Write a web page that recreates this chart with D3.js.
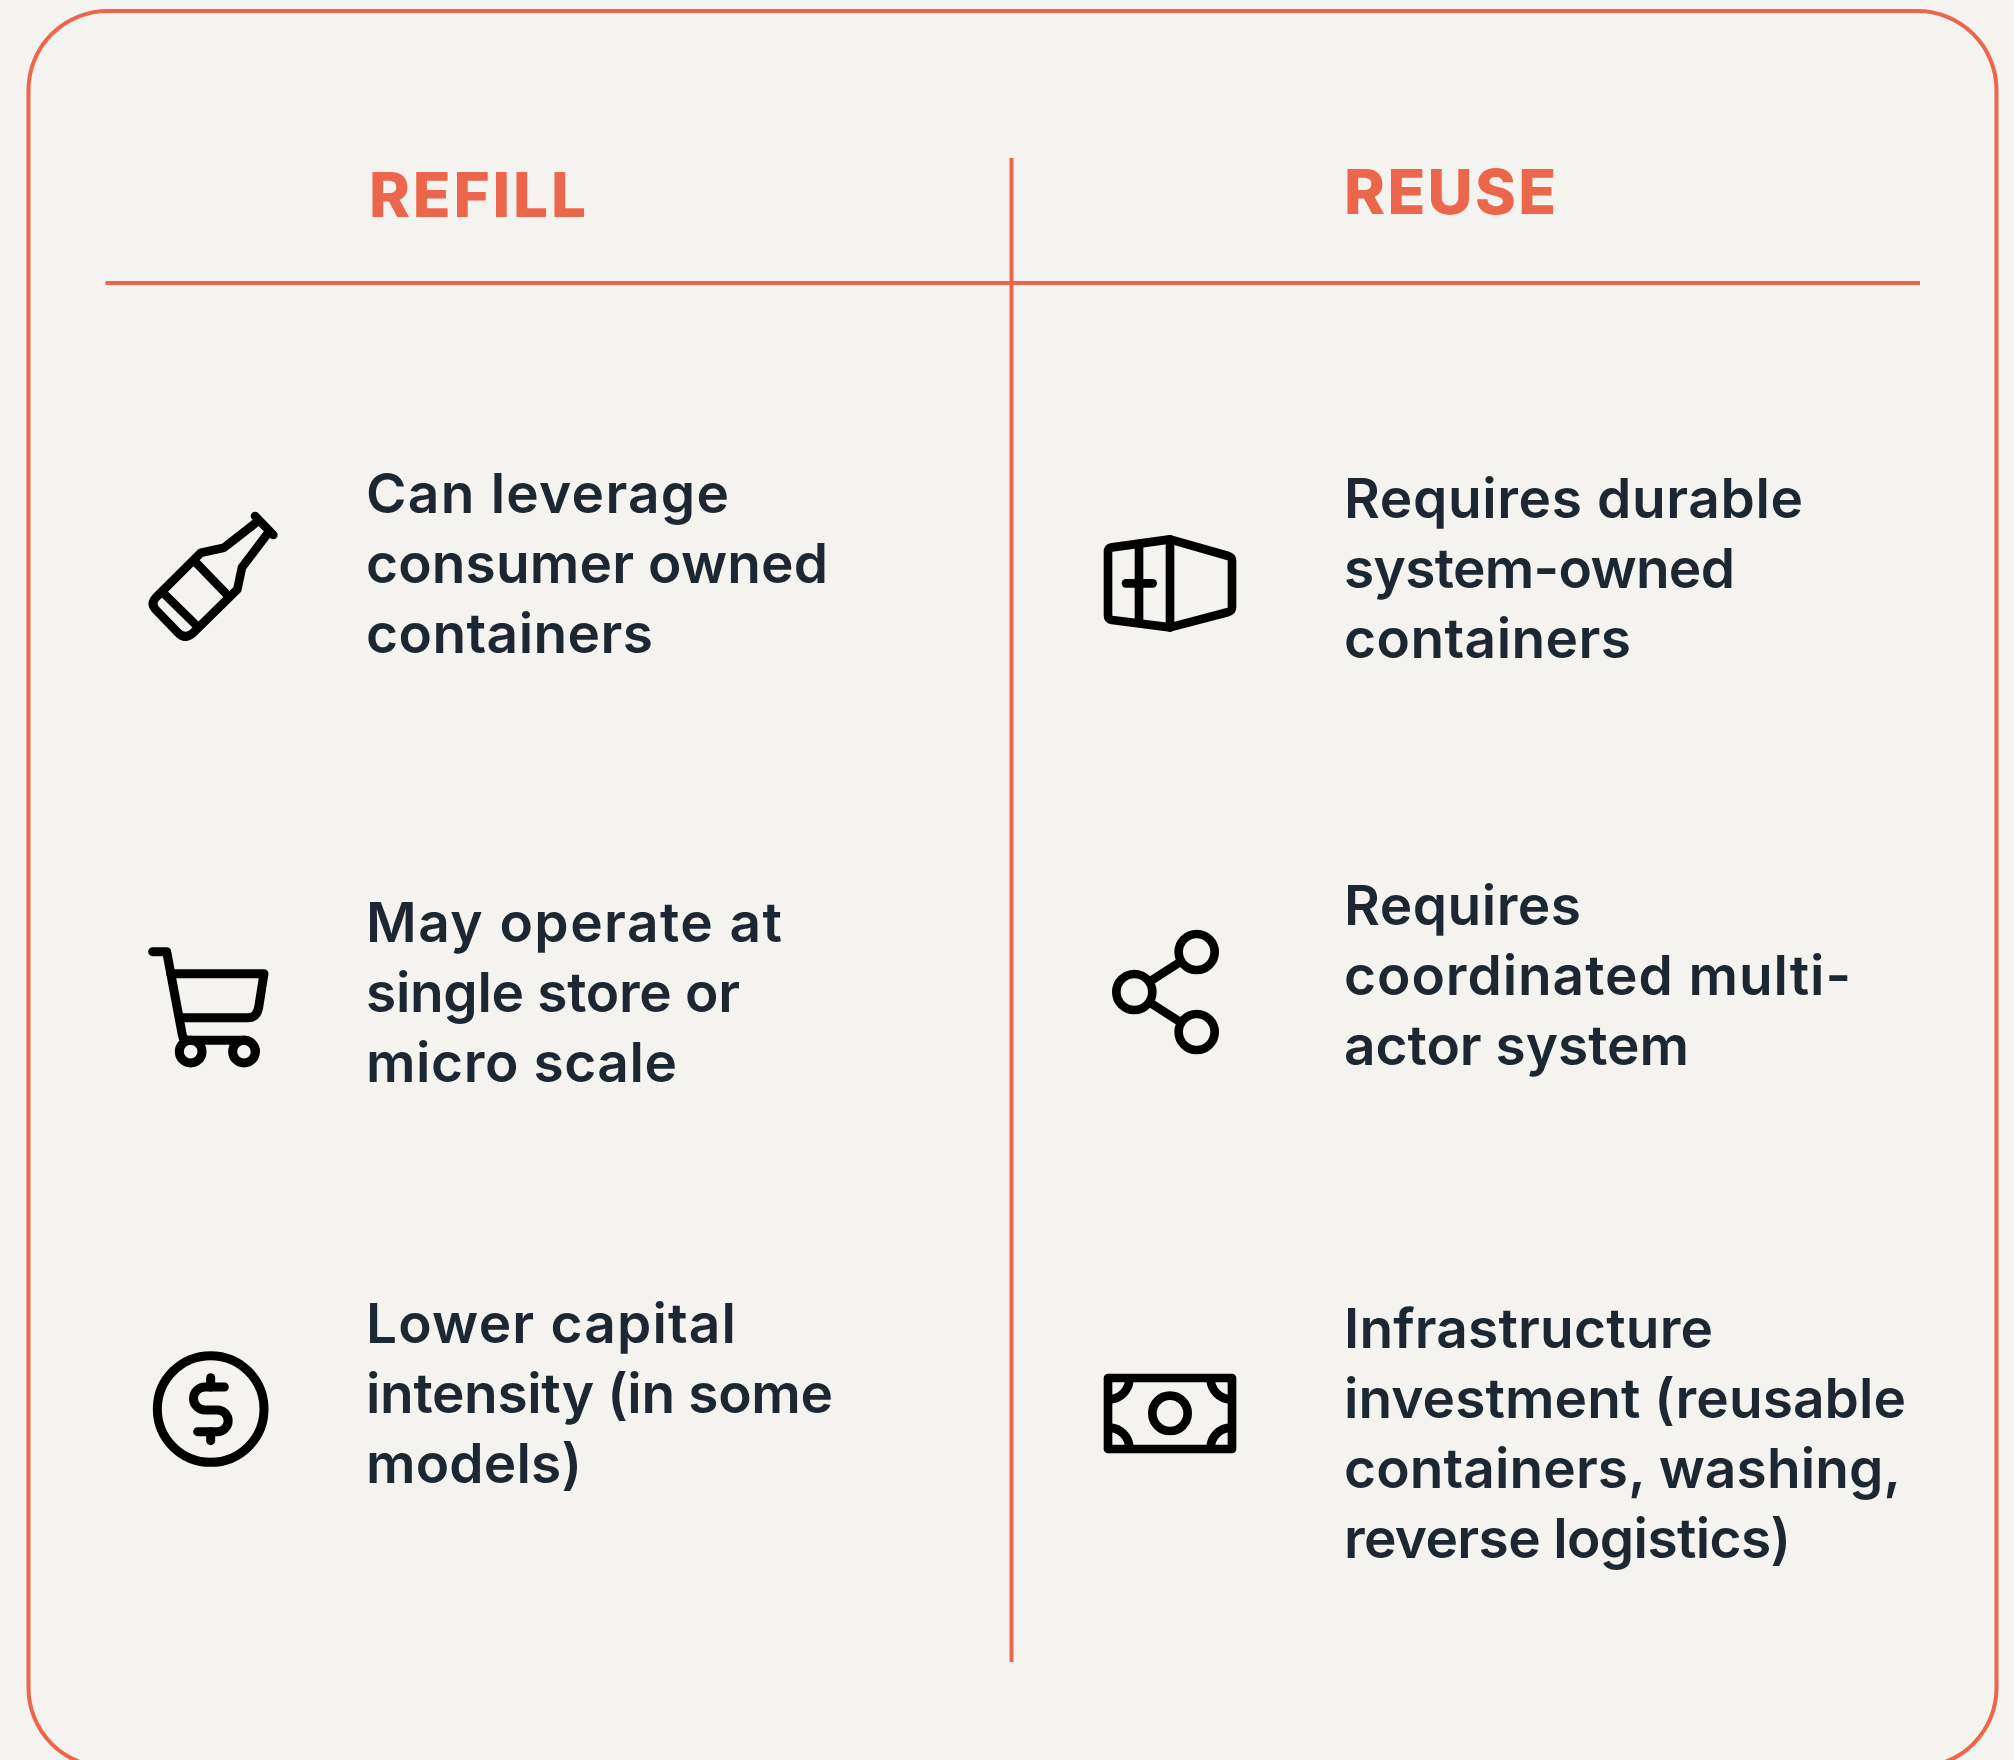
<!DOCTYPE html>
<html>
<head>
<meta charset="utf-8">
<script src="https://cdn.jsdelivr.net/npm/d3@7"></script>
<style>
  html, body { margin: 0; padding: 0; background: #f5f3ef; overflow: hidden; }
  text { font-family: "Inter", sans-serif; }
</style>
</head>
<body>
<svg id="chart"></svg>
<script>
const columns = ["REFILL", "REUSE"];
const refillLines = [
  ["Can leverage", "consumer owned", "containers"],
  ["May operate at", "single store or", "micro scale"],
  ["Lower capital", "intensity (in some", "models)"]
];
const reuseLines = [
  ["Requires durable", "system-owned", "containers"],
  ["Requires", "coordinated multi-", "actor system"],
  ["Infrastructure", "investment (reusable", "containers, washing,", "reverse logistics)"]
];
const refillIcons = ["bottle", "cart", "dollar"];
const reuseIcons = ["container", "share", "money"];

const width = 2014;
const height = 1760;
const orange = "#ec664b";
const ink = "#1d2731";
const lineHeight = 70;

// where each block's first baseline sits, and how wide each line runs in the reference
const refillY = [513, 942, 1343];
const reuseY = [518, 925, 1348];
const refillWidths = [[363, 462, 287], [416, 374, 311], [370, 467, 216]];
const reuseWidths = [[459, 391, 287], [237, 507, 345], [369, 562, 557, 447]];
const colX = [366, 1344];
const headY = [217, 214];
const headWidths = [217, 212];

const svg = d3.select("#chart")
  .attr("width", width)
  .attr("height", height);

svg.append("rect")
  .attr("x", 28.5)
  .attr("y", 11)
  .attr("width", 1968)
  .attr("height", 1756)
  .attr("rx", 79)
  .attr("fill", "#f5f3ef")
  .attr("stroke", orange)
  .attr("stroke-width", 4);

svg.append("line")
  .attr("x1", 105.5).attr("x2", 1920)
  .attr("y1", 283).attr("y2", 283)
  .attr("stroke", orange).attr("stroke-width", 4);

svg.append("line")
  .attr("x1", 1011.5).attr("x2", 1011.5)
  .attr("y1", 158).attr("y2", 1662)
  .attr("stroke", orange).attr("stroke-width", 4);

svg.selectAll("text.head")
  .data(columns)
  .enter()
  .append("text")
  .attr("class", "head")
  .attr("x", (d, i) => colX[i] + (i ? 0 : 3))
  .attr("y", (d, i) => headY[i])
  .attr("fill", orange)
  .attr("font-size", 62)
  .attr("font-weight", 800)
  .attr("textLength", (d, i) => headWidths[i])
  .text(d => d);

function drawBlocks(blocks, x, ys, widths) {
  const g = svg.append("g");
  blocks.forEach((lines, i) => {
    g.selectAll(null)
      .data(lines)
      .enter()
      .append("text")
      .attr("x", x)
      .attr("y", (d, j) => ys[i] + j * lineHeight)
      .attr("fill", ink)
      .attr("font-size", 55)
      .attr("font-weight", 600)
      .attr("textLength", (d, j) => widths[i][j])
      .text(d => d);
  });
}
drawBlocks(refillLines, colX[0], refillY, refillWidths);
drawBlocks(reuseLines, colX[1], reuseY, reuseWidths);

// icons are drawn in a 3x space so a crop of the reference reads straight across
const iconShapes = {
  bottle: { at: [120, 480], w: 26, paths: [
    "M405,108L460,165",
    "M408,128L312,203L243,218L108,352Q90,372 108,390L174,458Q195,480 220,458L352,328L366,262L445,158",
    "M230,250L322,345",
    "M133,342L225,432"
  ] },
  cart: { at: [120, 920], w: 27, paths: [
    "M98,95H140L187,345Q189,361 205,361H375A34,34 0 0 1 406,395",
    "M152,161H432L416,262Q410,293 385,293H178"
  ], circles: [[212, 395, 34], [372, 395, 34]] },
  dollar: { at: [130, 1330], w: 27, paths: [
    "M283,171H225A34.5,34.5 0 0 0 225,240H262A32.5,32.5 0 0 1 262,305H203",
    "M242,143V171",
    "M242,305V332"
  ], circles: [[242, 237, 160]] },
  container: { at: [1090, 520], w: 26, paths: [
    "M240,58L415,108Q426,112 426,122V262Q426,272 415,276L240,322L66,300Q54,298 54,286V96Q54,84 66,82Z",
    "M240,58V322",
    "M147,72V302",
    "M108,190H188"
  ] },
  share: { at: [1090, 920], w: 26, paths: [
    "M180,184L272,125",
    "M180,248L272,307"
  ], circles: [[320, 96, 54], [133, 216, 54], [320, 336, 54]] },
  money: { at: [1090, 1350], w: 26, paths: [
    "M54,84H426V297H54Z",
    "M118,90A62,62 0 0 1 60,148",
    "M362,90A62,62 0 0 0 420,148",
    "M118,291A62,62 0 0 0 60,233",
    "M362,291A62,62 0 0 1 420,233"
  ], circles: [[240, 190, 53]] }
};

function drawIcon(name) {
  const shape = iconShapes[name];
  const g = svg.append("g")
    .attr("transform", `translate(${shape.at[0]},${shape.at[1]}) scale(${1 / 3})`)
    .attr("fill", "none")
    .attr("stroke", "#000")
    .attr("stroke-width", shape.w)
    .attr("stroke-linecap", "round")
    .attr("stroke-linejoin", "round");
  g.selectAll("path")
    .data(shape.paths)
    .enter()
    .append("path")
    .attr("d", d => d);
  g.selectAll("circle")
    .data(shape.circles || [])
    .enter()
    .append("circle")
    .attr("cx", d => d[0])
    .attr("cy", d => d[1])
    .attr("r", d => d[2]);
}
refillIcons.concat(reuseIcons).forEach(drawIcon);
</script>
</body>
</html>
